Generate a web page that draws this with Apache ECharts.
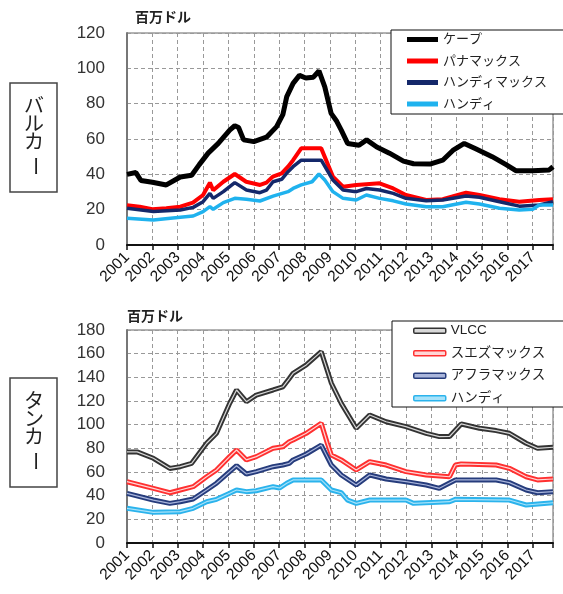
<!DOCTYPE html>
<html>
<head>
<meta charset="utf-8">
<script src="https://cdn.jsdelivr.net/npm/echarts@6/dist/echarts.min.js"></script>
<style>
html, body { margin: 0; padding: 0; background: #fff; }
#main { width: 563px; height: 594px; }
</style>
</head>
<body>
<div id="main"></div>
<script>
// bulk carriers, million USD, [year, value]
var cape = [[2001.0,40],[2001.35,41],[2001.55,36.5],[2002.0,35.5],[2002.55,34],[2003.1,38.5],[2003.55,39.5],[2003.85,45.5],[2004.2,52],[2004.6,57.5],[2005.05,65],[2005.25,67.5],[2005.4,66.5],[2005.6,59.5],[2006.0,58.5],[2006.5,61],[2006.9,67],[2007.15,74],[2007.3,84],[2007.55,91.5],[2007.8,96],[2008.05,94.5],[2008.35,95],[2008.57,98.5],[2008.8,89.5],[2009.05,74.5],[2009.25,70.5],[2009.45,65],[2009.7,57.5],[2010.15,56.5],[2010.45,59.5],[2010.85,55.5],[2011.35,52],[2011.9,47.5],[2012.3,46],[2012.95,45.8],[2013.45,48],[2013.85,53.5],[2014.3,57.5],[2014.75,54.5],[2015.4,50],[2015.95,45.5],[2016.35,42],[2017.0,42],[2017.65,42.5],[2017.8,44.3]];
var panamax = [[2001.0,22.5],[2001.5,21.7],[2002.0,20.2],[2002.55,20.8],[2003.1,21.7],[2003.6,24],[2004.0,28.3],[2004.27,35.3],[2004.4,31],[2004.8,35.8],[2005.25,40.2],[2005.7,35.8],[2006.25,34],[2006.5,35.3],[2006.75,38.7],[2007.1,40.5],[2007.35,44.3],[2007.55,48],[2007.87,54.7],[2008.66,54.7],[2009.12,38.7],[2009.52,33],[2010.04,34],[2010.96,34.9],[2011.5,32],[2012.0,28.3],[2012.8,25.5],[2013.45,25.9],[2014.37,29.6],[2014.9,28.3],[2015.69,25.9],[2016.47,24.5],[2017.26,25.5],[2017.8,25.9]];
var handymax = [[2001.0,20.8],[2002.04,18.9],[2003.1,19.8],[2003.61,21.3],[2004.0,24.5],[2004.27,29.2],[2004.4,26.4],[2004.8,30.2],[2005.25,35.3],[2005.71,31.1],[2006.24,29.6],[2006.5,31.1],[2006.76,35.8],[2007.1,37.2],[2007.35,41.5],[2007.55,44.3],[2007.87,48],[2008.66,48],[2009.12,36.8],[2009.52,31.1],[2010.04,30.2],[2010.44,32],[2010.96,31.1],[2011.5,29.2],[2012.0,26.4],[2012.8,25],[2013.45,25.5],[2014.37,27.7],[2014.9,27],[2015.69,24.5],[2016.47,22],[2017.26,22.6],[2017.8,24.5]];
var handyBulk = [[2001.0,15.1],[2002.04,14.2],[2003.1,15.7],[2003.61,16.4],[2004.0,18.9],[2004.27,21.7],[2004.4,20.2],[2004.8,24],[2005.25,26.4],[2005.71,25.9],[2006.24,24.9],[2006.76,27.7],[2007.35,30.2],[2007.55,32],[2007.87,34],[2008.3,35.8],[2008.57,40.2],[2008.8,36.8],[2009.12,30.2],[2009.52,26.4],[2010.04,25.5],[2010.44,28.3],[2010.96,26.4],[2011.5,25],[2012.0,23.2],[2012.8,21.7],[2013.45,21.7],[2014.37,24.2],[2014.9,23.2],[2015.69,20.8],[2016.47,19.8],[2017.0,20.2],[2017.26,22.6],[2017.8,22.6]];

// tankers
var vlcc = [[2001.0,77],[2001.4,77],[2002.04,71.6],[2002.69,63],[2003.1,64.5],[2003.55,67.3],[2004.14,84.3],[2004.53,92.7],[2005.05,118],[2005.32,129.3],[2005.71,119.4],[2006.1,125],[2006.76,129.3],[2007.15,132],[2007.4,139],[2007.55,143.4],[2008.07,150.5],[2008.66,161.7],[2009.06,135],[2009.45,118],[2010.04,97],[2010.57,108.2],[2011.22,102.5],[2012.0,98.3],[2012.8,92.7],[2013.32,89.9],[2013.72,90],[2014.18,100.6],[2014.9,97],[2015.56,95],[2016.08,92.7],[2016.74,84.3],[2017.19,80],[2017.8,80.9]];
var suezmax = [[2001.0,51.8],[2002.04,46.2],[2002.69,42.5],[2003.1,44.8],[2003.61,47.6],[2004.14,56],[2004.53,61.7],[2005.05,73],[2005.32,78.6],[2005.71,70.2],[2006.1,73],[2006.76,80],[2007.15,81.4],[2007.4,85.6],[2007.55,87],[2008.07,92.7],[2008.66,101.2],[2008.9,84.3],[2009.06,74.4],[2009.45,70.2],[2010.04,61.7],[2010.57,68.7],[2011.22,65.9],[2012.0,60.3],[2012.8,57.5],[2013.72,56],[2013.95,65.9],[2014.18,66.8],[2015.56,65.9],[2016.08,63.1],[2016.74,56],[2017.19,53.3],[2017.8,54.1]];
var aframax = [[2001.0,42],[2002.04,36.3],[2002.69,33.5],[2003.1,34.9],[2003.61,37.2],[2004.14,44.8],[2004.53,50.5],[2005.05,60.3],[2005.32,65.3],[2005.71,58.3],[2006.1,60.3],[2006.76,64.5],[2007.15,65.9],[2007.4,67.3],[2007.55,70.2],[2008.07,75.2],[2008.66,82.8],[2009.06,65.9],[2009.45,57.5],[2010.04,49],[2010.57,57.5],[2011.22,54.1],[2012.0,51.8],[2012.8,49],[2013.32,46.2],[2013.95,53.3],[2015.56,53.3],[2016.08,51],[2016.74,44.8],[2017.19,42.5],[2017.8,43.4]];
var handyTank = [[2001.0,29.3],[2002.04,25.9],[2003.1,26.5],[2003.61,29.3],[2004.14,34.9],[2004.53,36.9],[2005.05,42],[2005.32,44.8],[2005.71,43.4],[2006.1,44.2],[2006.76,47.6],[2007.02,46.5],[2007.3,50.5],[2007.55,53.3],[2008.66,53.3],[2009.06,44.8],[2009.45,42.5],[2009.7,36.3],[2010.04,33.5],[2010.57,36.3],[2012.0,36.3],[2012.3,33.5],[2013.72,34.9],[2013.95,36.9],[2016.08,36.3],[2016.74,32.1],[2017.8,34]];

var bulkNames = ['ケープ', 'パナマックス', 'ハンディマックス', 'ハンディ'];
var tankNames = ['VLCC', 'スエズマックス', 'アフラマックス', 'ハンディ'];

var chart = echarts.init(document.getElementById('main'));
var FONT = "'Liberation Sans', 'Noto Sans CJK JP', sans-serif";

function xAxisFor(idx) {
  return {
    type: 'value',
    gridIndex: idx,
    min: 2001,
    max: 2017.8,
    interval: 1,
    axisLine: { lineStyle: { color: '#111', width: 2 } },
    axisTick: { show: true, length: 5, lineStyle: { color: '#111', width: 1.5 } },
    axisLabel: {
      rotate: 45,
      margin: 10,
      fontSize: 15.5,
      color: '#111',
      fontFamily: FONT,
      formatter: function (v) { return Math.abs(v - Math.round(v)) < 1e-6 ? String(Math.round(v)) : ''; }
    },
    splitLine: { show: true, lineStyle: { type: [4, 3], color: '#999', width: 1 } }
  };
}

function yAxisFor(idx, max) {
  return {
    type: 'value',
    gridIndex: idx,
    min: 0,
    max: max,
    interval: 20,
    name: '百万ドル',
    nameLocation: 'end',
    nameGap: idx === 0 ? 8 : 6,
    nameTextStyle: { align: 'left', fontSize: 14, fontWeight: 'bold', color: '#222', fontFamily: FONT, padding: [0, 0, 0, idx === 0 ? 8 : 0] },
    axisLine: { show: true, lineStyle: { color: '#777', width: 2 } },
    axisTick: { show: false },
    axisLabel: { fontSize: 17, color: '#333', margin: 22, fontFamily: FONT },
    splitLine: { show: true, lineStyle: { type: [4, 3], color: '#999', width: 1 } }
  };
}

// plain thick line (top chart)
function bulkLine(name, data, color, width) {
  return {
    name: name, type: 'line', xAxisIndex: 0, yAxisIndex: 0,
    data: data, showSymbol: false, symbol: 'none',
    lineStyle: { color: color, width: width },
    itemStyle: { color: color }
  };
}

// outlined double line (bottom chart): thick dark line + thin light centre
function tankLines(name, data, dark, light) {
  return [{
    name: name, type: 'line', xAxisIndex: 1, yAxisIndex: 1,
    data: data, showSymbol: false, symbol: 'none',
    lineStyle: { color: dark, width: 5 },
    itemStyle: { color: dark }
  }, {
    name: name + '_in', type: 'line', xAxisIndex: 1, yAxisIndex: 1,
    data: data, showSymbol: false, symbol: 'none', silent: true,
    lineStyle: { color: light, width: 1.2 },
    itemStyle: { color: light }
  }];
}

var tankColors = [['#333333', '#d8d8d8'], ['#ff3030', '#ffd6d6'], ['#263c7c', '#aab6dc'], ['#2bb3ec', '#a6e2fa']];

var series = [
  bulkLine(bulkNames[0], cape, '#000000', 5),
  bulkLine(bulkNames[1], panamax, '#ff0000', 4),
  bulkLine(bulkNames[2], handymax, '#14286a', 3.5),
  bulkLine(bulkNames[3], handyBulk, '#1fb2ee', 3.5)
];
series = series.concat(tankLines(tankNames[0], vlcc, tankColors[0][0], tankColors[0][1]));
series = series.concat(tankLines(tankNames[1], suezmax, tankColors[1][0], tankColors[1][1]));
series = series.concat(tankLines(tankNames[2], aframax, tankColors[2][0], tankColors[2][1]));
series = series.concat(tankLines(tankNames[3], handyTank, tankColors[3][0], tankColors[3][1]));

var tankLegendData = tankNames.map(function (n, i) {
  return { name: n, itemStyle: { color: tankColors[i][1], borderColor: tankColors[i][0], borderWidth: 1.5 } };
});

// boxed vertical labels on the left
function sideLabel(top, chars) {
  var els = [{
    type: 'rect',
    shape: { x: 10, y: top, width: 47, height: 109 },
    style: { fill: '#fff', stroke: '#444', lineWidth: 1.5 }
  }];
  var ys = [top + 24, top + 42, top + 60, top + 83];
  chars.forEach(function (c, i) {
    els.push({
      type: 'text',
      x: 34, y: ys[i],
      rotation: c === 'ー' ? -Math.PI / 2 : 0,
      style: { text: c, fontSize: 20, fill: '#222', align: 'center', verticalAlign: 'middle', fontFamily: FONT }
    });
  });
  return els;
}

// legend frames run off the right edge of the picture
function legendFrame(x, y, h) {
  return {
    type: 'rect', z: 3,
    shape: { x: x, y: y, width: 200, height: h },
    style: { fill: '#fff', stroke: '#111', lineWidth: 1 }
  };
}

var option = {
  animation: false,
  backgroundColor: '#fff',
  grid: [
    { left: 127, top: 33, width: 426, height: 212, show: true, borderColor: '#666', borderWidth: 1 },
    { left: 127, top: 330, width: 426, height: 213, show: true, borderColor: '#666', borderWidth: 1 }
  ],
  xAxis: [xAxisFor(0), xAxisFor(1)],
  yAxis: [yAxisFor(0, 120), yAxisFor(1, 180)],
  legend: [{
    data: bulkNames,
    orient: 'vertical',
    left: 391, top: 30, z: 5,
    icon: 'rect',
    itemWidth: 31, itemHeight: 5, itemGap: 8.5,
    padding: [3, 5, 2, 16],
    selectedMode: false,
    textStyle: { fontSize: 13, color: '#222', fontFamily: FONT }
  }, {
    data: tankLegendData,
    orient: 'vertical',
    left: 392, top: 321, z: 5,
    icon: 'roundRect',
    itemWidth: 32, itemHeight: 5, itemGap: 9,
    padding: [3, 5, 3, 21],
    selectedMode: false,
    textStyle: { fontSize: 13.5, color: '#222', fontFamily: FONT }
  }],
  graphic: sideLabel(83, ['バ', 'ル', 'カ', 'ー'])
    .concat(sideLabel(378, ['タ', 'ン', 'カ', 'ー']))
    .concat([legendFrame(391, 30, 84), legendFrame(392, 321, 86)]),
  series: series
};

chart.setOption(option);
</script>
</body>
</html>
